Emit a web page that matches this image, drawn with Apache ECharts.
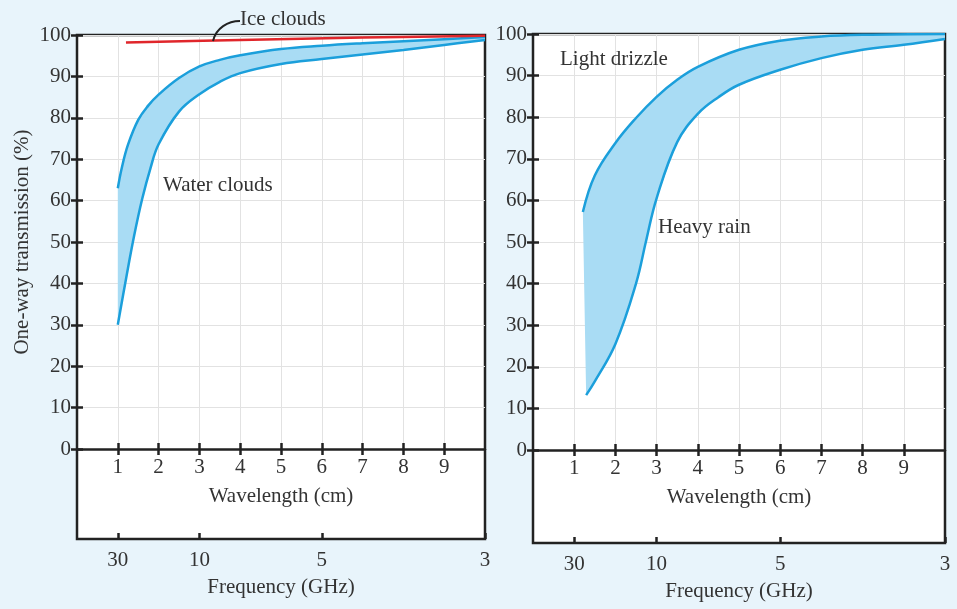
<!DOCTYPE html>
<html>
<head>
<meta charset="utf-8">
<script src="https://cdn.jsdelivr.net/npm/echarts@6/dist/echarts.min.js"></script>
<style>
  html, body { margin: 0; padding: 0; background: #e8f4fb; }
  #main { width: 957px; height: 609px; }
</style>
</head>
<body>
<div id="main"></div>
<script>
// wavelength (cm) ticks and frequency (GHz) ticks
const wlTicks = [1, 2, 3, 4, 5, 6, 7, 8, 9];
const freqTicks = [30, 10, 5, 3];

// left panel: clouds  [wavelength cm, transmission %]
const waterUpper = [[1.0, 63], [1.1, 68], [1.25, 73.5], [1.5, 79.5], [1.75, 83], [2.0, 85.6],
  [2.5, 89.6], [3.0, 92.4], [3.5, 94], [4, 95.1], [5, 96.6], [6, 97.4], [7, 98], [8, 98.5],
  [9, 99], [10, 99.5]];
const waterLower = [[1.0, 30], [1.2, 41], [1.4, 51.5], [1.6, 60.5], [1.8, 67.8], [2.0, 73.6],
  [2.5, 81.5], [3, 85.7], [3.5, 88.7], [4, 90.8], [5, 93], [6, 94.2], [7, 95.3], [8, 96.4],
  [9, 97.6], [10, 98.8]];
const iceClouds = [[1.2, 98.2], [4, 98.8], [7, 99.4], [10, 99.8]];

// right panel: rain
const drizzle = [[1.21, 57.2], [1.5, 66], [2, 73.8], [2.5, 79.8], [3, 84.9], [3.5, 89],
  [4, 92.1], [5, 96.2], [6, 98.4], [7, 99.4], [8, 99.8], [10, 100]];
const heavyRain = [[1.29, 13.2], [1.5, 16.5], [2, 25.5], [2.5, 40], [2.75, 50.5], [3, 60.5],
  [3.5, 74], [4, 80.8], [4.5, 84.8], [5, 87.8], [6, 91.4], [7, 94.2], [8, 96.2], [9, 97.4],
  [10, 98.8]];

const FONT = 'Liberation Serif';
const FS = 21;
const TXT = '#333';
const LINE = '#1b9fdb';
const FILL = '#a9dcf4';

const chart = echarts.init(document.getElementById('main'));

// plot area + the taller white box holding the frequency scale
const panels = [
  { left: 77, width: 408, top: 35, plotH: 414, boxH: 504 },
  { left: 533, width: 412, top: 34, plotH: 416, boxH: 509 }
];

const grid = [];
const xAxis = [];
const yAxis = [];
panels.forEach((p, i) => {
  grid.push({ left: p.left, width: p.width, top: p.top, height: p.boxH, show: true,
    backgroundColor: '#fff', borderColor: '#222', borderWidth: 2.5 });
  grid.push({ left: p.left, width: p.width, top: p.top, height: p.plotH });
  const gBox = i * 2, gPlot = i * 2 + 1;
  const tick = { show: true, inside: true, length: 6, lineStyle: { color: '#222', width: 2.5 } };
  // wavelength axis
  xAxis.push({ gridIndex: gPlot, type: 'value', min: 0, max: 10, position: 'bottom',
    axisLine: { lineStyle: { color: '#222', width: 2.5 } },
    axisTick: Object.assign({ customValues: wlTicks }, tick),
    axisLabel: { customValues: wlTicks, fontFamily: FONT, fontSize: FS, color: TXT, margin: 8 },
    splitLine: { show: true, lineStyle: { color: '#e2e2e2', width: 1 } },
    name: 'Wavelength (cm)', nameLocation: 'middle', nameGap: 37,
    nameTextStyle: { fontFamily: FONT, fontSize: FS, color: TXT } });
  // top ticks
  xAxis.push({ gridIndex: gPlot, type: 'value', min: 0, max: 10, position: 'top',
    axisLine: { show: false }, axisTick: Object.assign({ customValues: wlTicks }, tick),
    axisLabel: { show: false }, splitLine: { show: false } });
  // frequency axis on the box bottom
  const fPos = freqTicks.map(f => 30 / f);
  xAxis.push({ gridIndex: gBox, type: 'value', min: 0, max: 10, position: 'bottom',
    axisLine: { show: false }, axisTick: Object.assign({ customValues: fPos }, tick),
    axisLabel: { customValues: fPos, formatter: v => String(Math.round(30 / v)),
      fontFamily: FONT, fontSize: FS, color: TXT, margin: 11 },
    splitLine: { show: false },
    name: 'Frequency (GHz)', nameLocation: 'middle', nameGap: 38,
    nameTextStyle: { fontFamily: FONT, fontSize: FS, color: TXT } });

  yAxis.push({ gridIndex: gPlot, type: 'value', min: 0, max: 100, interval: 10, position: 'left',
    axisLine: { show: false }, axisTick: tick,
    axisLabel: { fontFamily: FONT, fontSize: FS, color: TXT, margin: 6 },
    splitLine: { show: true, lineStyle: { color: '#e2e2e2', width: 1 } },
    name: i === 0 ? 'One-way transmission (%)' : '', nameLocation: 'middle', nameGap: 44,
    nameTextStyle: { fontFamily: FONT, fontSize: FS, color: TXT } });
  yAxis.push({ gridIndex: gPlot, type: 'value', min: 0, max: 100, interval: 10, position: 'right',
    axisLine: { show: false }, axisTick: tick, axisLabel: { show: false }, splitLine: { show: false } });
  yAxis.push({ gridIndex: gBox, type: 'value', min: 0, max: 1, show: false });
});

// filled band between two curves, drawn through the axis scales
function band(upper, lower, xi, yi) {
  return {
    type: 'custom', xAxisIndex: xi, yAxisIndex: yi, data: [[0, 0]], silent: true,
    renderItem: (params, api) => {
      const pts = upper.map(p => api.coord(p)).concat(lower.slice().reverse().map(p => api.coord(p)));
      return { type: 'polygon', shape: { points: pts }, style: { fill: FILL } };
    }
  };
}
function curve(data, xi, yi, color) {
  return { type: 'line', xAxisIndex: xi, yAxisIndex: yi, data: data, smooth: 0.4,
    symbol: 'none', silent: true, lineStyle: { color: color || LINE, width: 2.5 } };
}

// axis indices: left plot x=0, y=0 ; right plot x=3, y=3
const series = [
  band(waterUpper, waterLower, 0, 0),
  curve(waterUpper, 0, 0),
  curve(waterLower, 0, 0),
  curve(iceClouds, 0, 0, '#e0262b'),
  band(drizzle, heavyRain, 3, 3),
  curve(drizzle, 3, 3),
  curve(heavyRain, 3, 3)
];

const label = (text, x, y) => ({ type: 'text', left: x, top: y, z: 100,
  style: { text: text, font: FS + 'px "' + FONT + '"', fill: TXT } });

chart.setOption({
  animation: false,
  grid: grid,
  xAxis: xAxis,
  yAxis: yAxis,
  series: series,
  graphic: [
    label('Ice clouds', 240, 9),
    label('Water clouds', 163, 175),
    label('Light drizzle', 560, 49),
    label('Heavy rain', 658, 217),
    { type: 'bezierCurve', z: 100,
      shape: { x1: 213, y1: 41, cpx1: 216, cpy1: 28, cpx2: 228, cpy2: 21, x2: 240, y2: 21 },
      style: { stroke: '#222', lineWidth: 2, fill: null } }
  ]
});
</script>
</body>
</html>
